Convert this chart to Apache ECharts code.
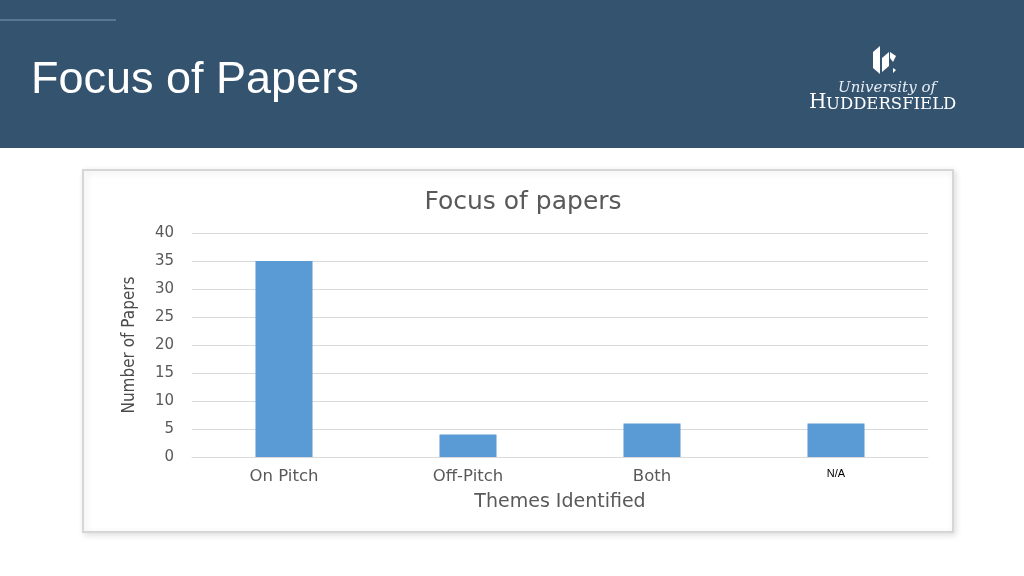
<!DOCTYPE html>
<html>
<head>
<meta charset="utf-8">
<script src="https://cdn.jsdelivr.net/npm/echarts@6/dist/echarts.min.js"></script>
<style>
html,body{margin:0;padding:0;background:#fff;}
#c{width:1024px;height:576px;}
</style>
</head>
<body>
<div id="c"></div>
<script>
const categories = ['On Pitch', 'Off-Pitch', 'Both', 'N/A'];
const paperCounts = [35, 4, 6, 6];
const yTicks = { min: 0, max: 40, interval: 5 };

const chart = echarts.init(document.getElementById('c'));
const axisFont = '"DejaVu Sans", "Open Sans", sans-serif';
chart.setOption({
  animation: false,
  backgroundColor: '#ffffff',
  graphic: [
    { type: 'rect', shape: { x: 0, y: 0, width: 1024, height: 148 }, style: { fill: '#34536f' }, z: -10 },
    { type: 'line', shape: { x1: 0, y1: 20, x2: 116, y2: 20 }, style: { stroke: '#7f9bb8', lineWidth: 1 } },
    { type: 'text', left: 31, top: 58, style: { text: 'Focus of Papers', fill: '#ffffff', font: '45px "Liberation Sans", Arial, sans-serif' } },
    // logo mark
    { type: 'polygon', shape: { points: [[873,52],[880,46],[880,74],[873,68]] }, style: { fill: '#ffffff' } },
    { type: 'polygon', shape: { points: [[882,58],[889,52],[889,66],[882,72]] }, style: { fill: '#ffffff' } },
    { type: 'polygon', shape: { points: [[890,52],[896,56],[893,62],[890,58]] }, style: { fill: '#ffffff' } },
    { type: 'polygon', shape: { points: [[893,68],[896,70],[893,73]] }, style: { fill: '#ffffff' } },
    { type: 'text', x: 838, y: 81, style: { text: 'University of', fill: '#e8eef4', font: 'italic 15px "DejaVu Serif", "Liberation Serif", serif' } },
    { type: 'text', x: 809, y: 93, style: { text: 'H', fill: '#ffffff', font: '20px "DejaVu Serif", serif' } },
    { type: 'text', x: 826, y: 96, style: { text: 'UDDERSFIELD', fill: '#ffffff', font: '16.5px "DejaVu Serif", serif' } },
    // chart frame
    { type: 'rect', shape: { x: 83, y: 170, width: 870, height: 362 }, style: { fill: '#ffffff', stroke: '#d6d6d6', lineWidth: 2, shadowBlur: 6, shadowColor: 'rgba(0,0,0,0.12)', shadowOffsetX: 2, shadowOffsetY: 2 }, z: -5 }
  ],
  title: {
    text: 'Focus of papers',
    left: 518, textAlign: 'center', top: 185,
    textStyle: { color: '#595959', fontSize: 25, fontWeight: 'normal', fontFamily: axisFont }
  },
  grid: { left: 192, right: 96, top: 233, bottom: 119, containLabel: false },
  xAxis: {
    type: 'category',
    data: categories,
    name: 'Themes Identified',
    nameLocation: 'middle',
    nameGap: 36,
    nameTextStyle: { color: '#595959', fontSize: 19, fontFamily: axisFont },
    axisLine: { show: true, lineStyle: { color: '#d9d9d9' } },
    axisTick: { show: false },
    axisLabel: {
      color: '#595959', fontSize: 16.5, fontFamily: axisFont, margin: 11,
      formatter: v => v === 'N/A' ? '{na|N/A}' : v,
      rich: { na: { color: '#000000', fontSize: 11, fontFamily: '"Liberation Sans", Arial, sans-serif', padding: [0, 0, 12, 0] } }
    }
  },
  yAxis: {
    type: 'value',
    min: yTicks.min, max: yTicks.max, interval: yTicks.interval,
    name: 'Number of Papers',
    nameLocation: 'middle',
    nameGap: 54,
    nameTextStyle: { color: '#4a4a4a', fontSize: 17, fontFamily: '"DejaVu Sans Condensed", "Liberation Sans Narrow", "Liberation Sans", sans-serif' },
    axisLine: { show: false },
    axisTick: { show: false },
    axisLabel: { color: '#595959', fontSize: 15, fontFamily: axisFont, margin: 18 },
    splitLine: { lineStyle: { color: '#d9d9d9' } }
  },
  series: [{
    type: 'bar',
    data: paperCounts,
    barWidth: '31%',
    itemStyle: { color: '#5b9bd5' }
  }]
});
</script>
</body>
</html>
